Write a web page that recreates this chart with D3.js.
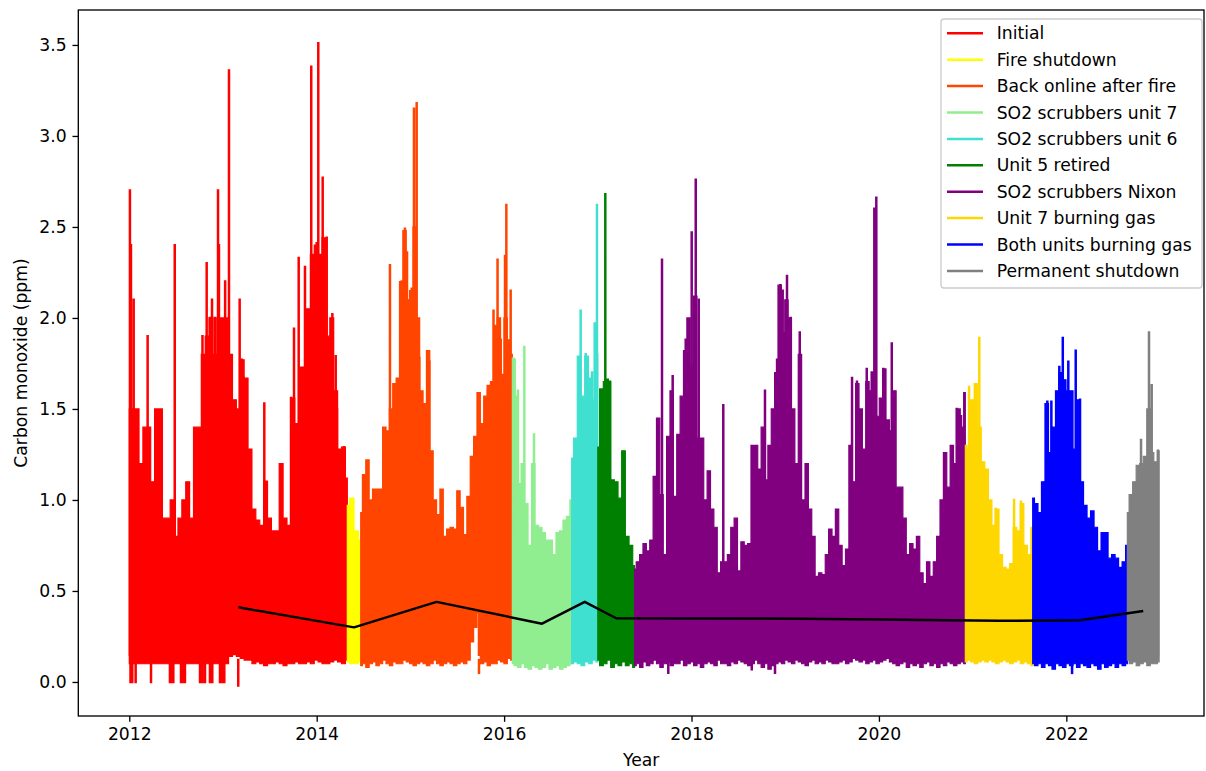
<!DOCTYPE html>
<html><head><meta charset="utf-8">
<script src="https://cdn.jsdelivr.net/npm/d3@7"></script>
<style>
body{margin:0;background:#fff}
svg{display:block}
text{font-family:"DejaVu Sans",sans-serif;fill:#000}
</style>
</head><body>
<svg id="chart" width="1206" height="771"></svg>
<script>
// ---------------- DATA ----------------
const periodNames = ["Initial","Fire shutdown","Back online after fire","SO2 scrubbers unit 7","SO2 scrubbers unit 6","Unit 5 retired","SO2 scrubbers Nixon","Unit 7 burning gas","Both units burning gas","Permanent shutdown"];
const periodColors = ["#ff0000","#ffff00","#ff4500","#90ee90","#40e0d0","#008000","#800080","#ffd700","#0000ff","#808080"];
// period boundaries in decimal years
const periodBounds = [2012.0,2014.327,2014.470,2016.088,2016.721,2017.0,2017.392,2020.922,2021.641,2022.651,2022.99];
// mean CO per period (black line)
const periodMeans = [0.41,0.30,0.44,0.32,0.44,0.35,0.348,0.336,0.339,0.39];

// upper envelope of the dense readings, evenly sampled through each period
const hiInitial = [1.5,1.5,1.5,1.2,1.4,1.4,1.1,1.5,1.5,0.9,0.9,1.0,0.8,0.9,1.0,1.1,0.9,1.4,1.4,1.8,1.9,2.0,1.8,2.0,2.0,2.0,1.8,1.55,1.5,1.77,1.67,1.28,0.95,0.89,0.86,1.1,0.9,0.83,0.83,1.2,0.9,0.86,1.56,1.42,1.73,1.73,2.05,2.35,2.4,2.35,2.44,1.9,2.0,1.6,1.28,1.29,1.12];
const hiFire = [0.97,1.01,0.83,0.78];
const hiBackOnline = [0.93,1.14,1.22,1.0,1.06,1.06,1.06,1.4,1.38,1.5,1.64,1.67,2.2,2.48,2.1,2.15,2.5,2.0,1.6,1.53,1.82,1.27,1.0,0.92,1.06,0.8,0.84,0.85,0.84,1.05,0.96,0.81,1.02,1.24,1.35,1.59,1.42,1.57,1.63,1.65,1.96,2.0,1.69,2.0,1.88,1.8];
const hiUnit7 = [1.78,1.57,1.09,1.2,0.98,0.75,1.2,0.86,0.85,0.82,0.78,0.78,0.7,0.82,0.83,0.89,0.91,1.0];
const hiUnit6 = [1.23,1.34,1.79,1.57,1.79,1.67,1.55,1.8];
const hiUnit5 = [1.29,1.61,1.65,1.65,1.11,1.1,1.01,1.27,0.8,0.75,0.64];
const hiNixon = [0.62,0.66,0.7,0.76,0.72,0.78,1.13,1.45,1.03,0.7,
 1.35,1.6,1.02,1.36,1.57,1.82,2.0,1.74,2.12,1.34,
 1.34,1.0,1.16,0.95,0.85,0.6,0.66,0.66,0.7,0.85,
 0.9,0.61,0.77,0.75,0.76,1.3,1.3,1.17,1.4,1.11,
 1.3,1.5,1.7,2.18,1.92,2.1,2.0,1.5,1.2,1.8,
 1.0,1.2,0.95,0.8,0.58,0.6,0.59,0.7,0.84,0.8,
 0.95,0.75,0.64,0.73,1.3,1.1,1.64,1.5,1.28,1.65,
 1.6,1.7,1.46,1.56,1.72,1.44,1.38,1.6,
 1.07,1.07,0.9,0.7,0.76,0.73,0.8,0.6,0.54,0.66,
 0.58,0.66,0.8,1.0,1.26,1.07,1.3,1.2,1.5,1.4,1.59];
const hiGas7 = [1.3,1.28,1.55,1.64,1.4,1.21,1.17,1.0,0.86,0.95,0.7,0.63,0.62,0.65,0.85,0.83,0.98,0.75,0.7,0.85];
const hiGasBoth = [1.01,0.98,0.93,1.1,1.53,1.26,1.4,1.6,1.7,1.66,1.6,1.6,1.28,1.55,1.1,0.97,0.9,0.94,0.85,0.72,0.82,0.82,0.68,0.7,0.68,0.63,0.66,0.75];
const hiShutdown = [0.93,1.03,1.1,1.19,1.2,1.24,1.5,1.26,1.21,1.27];

// lower envelope, same sampling
const loInitial = [0.1,0.1,0.1,0.1,0.1,0.1,0.1,0.1,0.1,0.1,0.1,0.1,0.1,0.1,0.1,0.1,0.1,0.1,0.1,0.1,0.1,0.1,0.1,0.1,0.1,0.1,
 0.14,0.15,0.14,
 0.13,0.12,0.12,0.1,0.11,0.1,0.09,0.1,0.1,0.11,0.1,0.09,0.1,0.1,0.11,0.1,0.1,0.11,0.1,0.12,0.11,0.1,0.1,0.11,0.12,0.11,0.1,0.12];
const loFire = [0.11,0.1,0.1,0.11];
const loBackOnline = [0.09,0.1,0.08,0.1,0.11,0.09,0.1,0.12,0.1,0.09,0.11,0.1,0.1,0.12,0.11,0.1,0.09,0.1,0.11,0.1,0.09,0.1,0.12,0.1,0.09,0.1,0.11,0.1,0.09,0.1,0.11,0.1,0.12,0.22,0.3,0.38,0.1,0.11,0.09,0.1,0.1,0.12,0.11,0.1,0.13,0.12];
const loUnit7 = [0.1,0.09,0.08,0.1,0.08,0.07,0.09,0.08,0.07,0.08,0.1,0.07,0.08,0.09,0.07,0.08,0.09,0.1];
const loUnit6 = [0.1,0.11,0.1,0.09,0.11,0.1,0.12,0.11];
const loUnit5 = [0.12,0.09,0.1,0.12,0.08,0.1,0.09,0.11,0.09,0.1,0.08];
const loNixon = [0.09,0.1,0.08,0.11,0.09,0.1,0.12,0.1,0.08,0.1,
 0.11,0.09,0.1,0.1,0.12,0.09,0.1,0.11,0.09,0.1,
 0.08,0.1,0.11,0.1,0.09,0.12,0.1,0.1,0.09,0.11,
 0.1,0.12,0.11,0.1,0.09,0.1,0.12,0.1,0.08,0.1,
 0.07,0.09,0.1,0.11,0.1,0.12,0.11,0.1,0.12,0.11,
 0.1,0.09,0.11,0.12,0.1,0.11,0.1,0.12,0.11,0.1,
 0.1,0.11,0.12,0.1,0.11,0.13,0.12,0.11,0.12,0.1,
 0.11,0.12,0.1,0.11,0.12,0.13,0.11,0.1,0.09,0.1,
 0.11,0.08,0.1,0.09,0.1,0.08,0.1,0.11,0.09,0.1,
 0.08,0.1,0.09,0.11,0.1,0.09,0.1,0.11,0.1];
const loGas7 = [0.11,0.12,0.11,0.1,0.11,0.12,0.11,0.12,0.11,0.1,0.11,0.12,0.11,0.1,0.11,0.12,0.1,0.11,0.1,0.09];
const loGasBoth = [0.1,0.09,0.1,0.08,0.1,0.09,0.07,0.1,0.09,0.08,0.1,0.09,0.1,0.08,0.1,0.09,0.08,0.1,0.09,0.07,0.1,0.08,0.09,0.1,0.08,0.1,0.09,0.1];
const loShutdown = [0.12,0.1,0.11,0.09,0.1,0.11,0.09,0.1,0.1,0.11];

// isolated peaks [decimal year, ppm]
const peaksInitial = [[2012.007,2.70],[2012.018,2.40],[2012.047,2.10],[2012.196,1.90],[2012.485,2.40],[2012.781,1.90],[2012.826,2.30],[2012.861,2.00],[2012.883,2.10],[2012.915,2.00],[2012.947,2.70],[2012.957,2.40],[2012.986,1.80],[2013.023,2.20],[2013.064,3.36],[2013.082,1.77],[2013.178,2.10],[2013.200,1.77],[2013.221,1.67],[2013.441,1.53],[2013.466,1.10],[2013.619,1.19],[2013.726,1.56],[2013.758,1.94],[2013.808,2.33],[2013.875,2.28],[2013.907,2.00],[2013.942,3.38],[2013.960,2.34],[2014.000,2.41],[2014.017,3.51],[2014.046,2.10],[2014.064,2.77],[2014.107,2.44],[2014.167,2.02],[2014.203,1.79],[2014.217,1.50],[2014.291,1.29]];
const peaksFire = [];
const peaksBackOnline = [[2014.782,2.29],[2014.825,1.50],[2014.879,1.60],[2014.907,2.20],[2014.942,2.49],[2014.964,2.36],[2015.014,2.16],[2015.038,3.15],[2015.067,3.18],[2015.095,1.78],[2015.202,1.76],[2015.732,1.50],[2015.828,1.60],[2015.887,2.04],[2015.930,2.32],[2015.964,1.88],[2016.010,2.34],[2016.024,2.62],[2016.070,2.15]];
const peaksUnit7 = [[2016.113,1.77],[2016.148,1.60],[2016.216,1.84],[2016.319,1.36]];
const peaksUnit6 = [[2016.817,2.04],[2016.871,1.80],[2016.938,1.70],[2016.967,1.97],[2016.991,2.62]];
const peaksUnit5 = [[2017.037,1.60],[2017.080,2.68],[2017.106,1.66],[2017.130,1.65]];
const peaksNixon = [[2017.685,2.32],[2017.799,1.68],[2017.938,1.88],[2017.966,1.86],[2018.002,2.47],[2018.045,2.76],[2018.077,2.10],[2018.339,1.52],[2018.784,1.60],[2018.913,1.77],[2018.948,2.18],[2018.973,2.15],[2019.019,2.23],[2019.059,2.00],[2019.155,1.92],[2019.713,1.67],[2019.766,1.65],[2019.870,1.72],[2019.923,1.70],[2019.951,2.60],[2019.972,2.66],[2020.047,1.72],[2020.137,1.86],[2020.830,1.50],[2020.876,1.46]];
const peaksGas7 = [[2020.962,1.62],[2021.029,1.63],[2021.071,1.89],[2021.246,0.95],[2021.442,1.00],[2021.516,0.99]];
const peaksGasBoth = [[2021.797,1.54],[2021.840,1.54],[2021.925,1.73],[2021.962,1.89],[2022.021,1.76],[2022.100,1.82],[2022.146,1.55]];
const peaksShutdown = [[2022.797,1.33],[2022.882,1.92],[2022.911,1.63],[2022.978,1.27]];

// low readings below the usual floor [decimal year, ppm]
const dipsInitial = [[2012.013,0],[2012.032,0],[2012.068,0],[2012.232,0],[2012.434,0],[2012.450,0],[2012.470,0],[2012.552,0],[2012.574,0],[2012.594,0],[2012.755,0],[2012.781,0],[2012.808,0],[2012.861,0],[2012.886,0],[2012.968,0],[2012.989,0],[2013.014,0],[2013.163,-0.02]];
const dipsBackOnline = [[2015.732,0.05]];
const dipsNixon = [[2017.752,0.05],[2018.643,0.07],[2018.891,0.05]];
const dipsGasBoth = [[2022.061,0.05]];

const xTicks = [2012,2014,2016,2018,2020,2022];
const yTicks = [0,0.5,1.0,1.5,2.0,2.5,3.0,3.5];

const hiSeries = [hiInitial,hiFire,hiBackOnline,hiUnit7,hiUnit6,hiUnit5,hiNixon,hiGas7,hiGasBoth,hiShutdown];
const loSeries = [loInitial,loFire,loBackOnline,loUnit7,loUnit6,loUnit5,loNixon,loGas7,loGasBoth,loShutdown];
const peakSeries = [peaksInitial,peaksFire,peaksBackOnline,peaksUnit7,peaksUnit6,peaksUnit5,peaksNixon,peaksGas7,peaksGasBoth,peaksShutdown];
const dipSeries = [dipsInitial,[],dipsBackOnline,[],[],[],dipsNixon,[],dipsGasBoth,[]];

// ---------------- LAYOUT ----------------
const L = 78.3, R = 1204, T = 10, B = 716;
const FS = 17.2;
const svg = d3.select("#chart");
const x = d3.scaleLinear().domain([2011.456, 2023.469]).range([L, R]);
const y = d3.scaleLinear().domain([-0.187, 3.692]).range([B, T]);

svg.append("defs").append("clipPath").attr("id","clip")
  .append("rect").attr("x",L).attr("y",T).attr("width",R-L).attr("height",B-T);
const plot = svg.append("g").attr("clip-path","url(#clip)");

periodNames.forEach((name, p) => {
  const hi = hiSeries[p], lo = loSeries[p];
  const t0 = periodBounds[p], t1 = periodBounds[p+1];
  const n = hi.length;
  const pts = hi.map((v, i) => ({t: t0 + i*(t1-t0)/(n-1), hi: v, lo: lo[i]}));
  const area = d3.area().x(d => x(d.t)).y0(d => y(d.lo)).y1(d => y(d.hi)).curve(d3.curveStep);
  const g = plot.append("g");
  g.append("path").attr("d", area(pts)).attr("fill", periodColors[p])
    .attr("stroke", periodColors[p]).attr("stroke-width", 1.2).attr("stroke-linejoin","miter");
  const seg = peakSeries[p].map(d => `M${x(d[0])},${y(0.15)}V${y(d[1])}`).join("");
  if (seg) g.append("path").attr("d", seg).attr("stroke", periodColors[p]).attr("stroke-width", 2.5)
    .attr("stroke-linecap","square").attr("fill","none");
  const dseg = dipSeries[p].map(d => `M${x(d[0])},${y(0.12)}V${y(d[1])}`).join("");
  if (dseg) g.append("path").attr("d", dseg).attr("stroke", periodColors[p]).attr("stroke-width", 2.5)
    .attr("stroke-linecap","square").attr("fill","none");
});

// mean line
const meanPts = periodMeans.map((m, p) => [(periodBounds[p] + periodBounds[p+1]) / 2, m]);
plot.append("path").attr("d", d3.line().x(d => x(d[0])).y(d => y(d[1]))(meanPts))
  .attr("fill","none").attr("stroke","#000").attr("stroke-width",2.5).attr("stroke-linejoin","round");

// axes
const xAxis = d3.axisBottom(x).tickValues(xTicks).tickFormat(d3.format("d")).tickSize(5.8).tickPadding(5.8);
const gx = svg.append("g").attr("transform", `translate(0,${B})`).call(xAxis);
const yAxis = d3.axisLeft(y).tickValues(yTicks).tickFormat(d3.format(".1f")).tickSize(5.8).tickPadding(5.8);
const gy = svg.append("g").attr("transform", `translate(${L},0)`).call(yAxis);
[gx, gy].forEach(g => {
  g.select(".domain").remove();
  g.selectAll(".tick line").attr("stroke","#000").attr("stroke-width",1.33);
  g.selectAll(".tick text").attr("font-size", FS).attr("font-family","DejaVu Sans").attr("fill","#000");
});
svg.append("rect").attr("x",L).attr("y",T).attr("width",R-L).attr("height",B-T)
  .attr("fill","none").attr("stroke","#000").attr("stroke-width",1.33);

svg.append("text").attr("x",(L+R)/2).attr("y",766).attr("text-anchor","middle").attr("font-size",FS).text("Year");
svg.append("text").attr("transform",`translate(27,${(T+B)/2}) rotate(-90)`).attr("text-anchor","middle").attr("font-size",FS).text("Carbon monoxide (ppm)");

// legend
const lg = svg.append("g");
lg.append("rect").attr("x",941).attr("y",19).attr("width",261).attr("height",269).attr("rx",3)
  .attr("fill","#fff").attr("fill-opacity",0.8).attr("stroke","#cccccc").attr("stroke-width",1.33);
periodNames.forEach((name, p) => {
  const cy = 33.3 + p*26.4;
  lg.append("line").attr("x1",947).attr("x2",983).attr("y1",cy).attr("y2",cy).attr("stroke",periodColors[p]).attr("stroke-width",2.5);
  lg.append("text").attr("x",996.7).attr("y",cy+6).attr("font-size",FS).text(name);
});
</script>
</body></html>
